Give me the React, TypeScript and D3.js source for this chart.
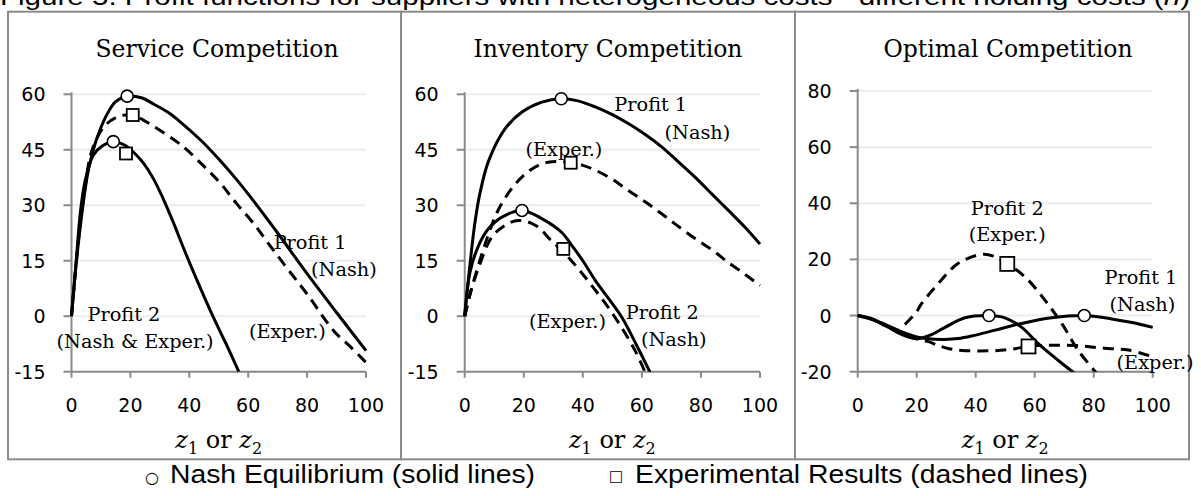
import React from 'react';
import * as d3 from 'd3';

// ---------- shared ticks ----------
const xTicks = [0, 20, 40, 60, 80, 100];
const yTicksSI = [-15, 0, 15, 30, 45, 60];
const yTicksOpt = [-20, 0, 20, 40, 60, 80];

// ---------- Service Competition ----------
const svcP1NashX = [0, 1.7, 3.9, 5.5, 7.4, 9.5, 12, 15, 18.9, 24, 28, 33, 37, 44, 50, 56, 62, 70, 80, 90, 100];
const svcP1NashY = [0, 15, 30, 38.5, 45, 50, 54.5, 58, 59.5, 59, 57.3, 55, 52.5, 47.5, 42.5, 37, 31, 22.5, 11.5, 1, -9.3];
const svcP1ExpX = [0, 1.5, 3, 4.8, 6.8, 10.8, 15.3, 20.8, 25.5, 30, 35.7, 39.3, 45, 50.6, 56, 61.9, 67, 73.2, 80, 89, 95, 100];
const svcP1ExpY = [0, 13.5, 25.5, 36, 44.5, 51, 53.8, 54.4, 52.5, 50.3, 47.2, 44.9, 40.5, 35.9, 30.5, 25, 19.5, 13, 6, -3.9, -8.5, -12.5];
const svcP2X = [0, 1.6, 3, 4.6, 7.4, 10.8, 14.2, 18, 21, 24.5, 27.8, 31, 34.5, 38, 43, 48, 52.5, 56.8];
const svcP2Y = [0, 15, 28, 36.5, 43.5, 46.2, 47.2, 46.3, 44.4, 41.3, 37.2, 32, 25.5, 18.5, 9, 0, -7.5, -15];
const svcNashPts = [[18.9, 59.5], [14.2, 47.2]];
const svcExpPts = [[20.8, 54.4], [18.5, 44.0]];

// ---------- Inventory Competition ----------
const invP1NashX = [0, 1, 2.2, 3.5, 5.1, 8.1, 13.7, 19.4, 26.1, 32.7, 38, 44.2, 50, 55.4, 61, 66.7, 72, 78, 84, 89.3, 95, 100];
const invP1NashY = [0, 8, 17, 25.5, 33, 42, 50.7, 55.2, 57.9, 58.8, 58.3, 56.6, 54.5, 52.1, 49.2, 45.8, 42, 37.6, 32.8, 28.6, 24, 19.5];
const invP1ExpX = [0, 2, 5.1, 8.2, 11.4, 16.1, 21, 26.1, 30.6, 35.9, 40, 44.2, 50, 55.4, 61, 66.7, 72, 78, 84, 89.3, 95, 100];
const invP1ExpY = [0, 6.5, 15, 22.5, 28.8, 34.7, 38.8, 41.2, 41.8, 41.5, 40.8, 39.5, 37, 34, 31, 27.7, 24.5, 21, 17.8, 14.5, 11.3, 8.3];
const invP2NashX = [0, 1.8, 4.7, 8.1, 12.6, 19.4, 26.1, 32.8, 36.2, 40, 44.2, 48.5, 53.2, 58, 62.8];
const invP2NashY = [0, 11.9, 19.1, 23.7, 26.8, 28.6, 26.4, 22.7, 19.2, 15, 9.7, 5, -0.3, -7.5, -15.2];
const invP2ExpX = [0, 2, 5.1, 9.1, 13.7, 18.2, 23.9, 29.5, 33.4, 38.5, 43.5, 48.6, 53, 57.7, 61];
const invP2ExpY = [0, 6.5, 14, 21.3, 24.6, 25.9, 24.6, 20.3, 17.4, 12.8, 7.8, 2.4, -2.9, -9.3, -15];
const invNashPts = [[32.7, 58.8], [19.4, 28.6]];
const invExpPts = [[35.9, 41.5], [33.4, 18.2]];

// ---------- Optimal Competition ----------
const optP1NashX = [0, 5, 10, 15, 20, 24, 29.6, 34, 38.6, 46.6, 55.6, 65.8, 76.8, 86.1, 93, 100];
const optP1NashY = [0, -1.5, -3.5, -5.8, -7.6, -8.3, -8.5, -8.2, -7.3, -5.2, -2.8, -0.8, 0, -1.2, -2.5, -4.2];
const optP2NashX = [0, 5, 10, 15, 20, 25, 29.6, 36.4, 44.5, 49.9, 55.6, 61.3, 68, 73.7];
const optP2NashY = [0, -1.2, -4, -6.8, -8.3, -6.8, -4.2, -0.8, 0, -0.8, -4.2, -10.1, -16, -20.7];
const optP1ExpX = [0, 5, 10, 15, 20, 24, 27.4, 31, 36.4, 46.6, 52, 57.9, 63, 68, 74.8, 80, 86, 91.8, 100];
const optP1ExpY = [0, -1.3, -4, -6.5, -8.3, -9.3, -10.7, -11.8, -12.5, -12.5, -12, -11, -10.6, -10.6, -10.7, -11.3, -11.8, -12.3, -14.7];
const optP2ExpX = [16, 19.7, 21.7, 27.4, 34.1, 42, 46, 50.7, 56.7, 63.6, 69.2, 74.8, 81];
const optP2ExpY = [-3.2, 1, 4.3, 11.5, 18.6, 21.8, 21.2, 18.4, 13.8, 5.3, -2.9, -12.5, -20.6];
const optNashPts = [[44.5, 0], [76.8, 0]];
const optExpPts = [[50.7, 18.4], [57.9, -11]];

// ---------- text ----------
const figTitle = 'Figure 5. Profit functions for suppliers with heterogeneous costs - different holding costs (';
const panelTitles = ['Service Competition', 'Inventory Competition', 'Optimal Competition'];
const legendNash = 'Nash Equilibrium (solid lines)';
const legendExp = 'Experimental Results (dashed lines)';

type Series = { xs: number[]; ys: number[]; dashed: boolean };
type Note = { text: string; u: number; v: number };

const zip = (xs: number[], ys: number[]) => xs.map((x, i) => [x, ys[i]] as [number, number]);

const panels = [
  {
    title: panelTitles[0], titleX: 217, border: [8, 401],
    x0: 71.5, x1: 366, yDomain: [-15, 60], yTop: 94.3, yBottom: 371.7, yTicks: yTicksSI,
    series: [
      { xs: svcP1NashX, ys: svcP1NashY, dashed: false },
      { xs: svcP1ExpX, ys: svcP1ExpY, dashed: true },
      { xs: svcP2X, ys: svcP2Y, dashed: false },
    ] as Series[],
    nash: svcNashPts, exp: svcExpPts, sq: 12,
    notes: [
      { text: 'Profit 1', u: 81, v: 18.3 },
      { text: '(Nash)', u: 92.5, v: 11.0 },
      { text: 'Profit 2', u: 17.8, v: -1.4 },
      { text: '(Nash & Exper.)', u: 21.6, v: -8.5 },
      { text: '(Exper.)', u: 73.3, v: -6.0 },
    ] as Note[],
  },
  {
    title: panelTitles[1], titleX: 608, border: [401, 795],
    x0: 464.7, x1: 760, yDomain: [-15, 60], yTop: 94.3, yBottom: 371.7, yTicks: yTicksSI,
    series: [
      { xs: invP1NashX, ys: invP1NashY, dashed: false },
      { xs: invP1ExpX, ys: invP1ExpY, dashed: true },
      { xs: invP2NashX, ys: invP2NashY, dashed: false },
      { xs: invP2ExpX, ys: invP2ExpY, dashed: true },
    ] as Series[],
    nash: invNashPts, exp: invExpPts, sq: 12,
    notes: [
      { text: 'Profit 1', u: 63, v: 55.4 },
      { text: '(Nash)', u: 78.8, v: 48.0 },
      { text: '(Exper.)', u: 33.6, v: 43.2 },
      { text: '(Exper.)', u: 34.8, v: -3.1 },
      { text: 'Profit 2', u: 66.9, v: -0.7 },
      { text: '(Nash)', u: 70.8, v: -8.1 },
    ] as Note[],
  },
  {
    title: panelTitles[2], titleX: 1008, border: [795, 1189],
    x0: 857.7, x1: 1152.7, yDomain: [-20, 80], yTop: 91, yBottom: 371.7, yTicks: yTicksOpt,
    series: [
      { xs: optP1NashX, ys: optP1NashY, dashed: false },
      { xs: optP2NashX, ys: optP2NashY, dashed: false },
      { xs: optP1ExpX, ys: optP1ExpY, dashed: true },
      { xs: optP2ExpX, ys: optP2ExpY, dashed: true },
    ] as Series[],
    nash: optNashPts, exp: optExpPts, sq: 14,
    notes: [
      { text: 'Profit 2', u: 50.7, v: 35.9 },
      { text: '(Exper.)', u: 50.7, v: 26.4 },
      { text: 'Profit 1', u: 96, v: 11.3 },
      { text: '(Nash)', u: 96.5, v: 1.8 },
      { text: '(Exper.)', u: 100.8, v: -19 },
    ] as Note[],
  },
];

const SANS = 'DejaVu Sans, sans-serif';
const SERIF = 'DejaVu Serif, serif';
const ARIAL = 'Liberation Sans, Arial, sans-serif';
const AXIS = '#8a8a8a';
const GRID = '#ececec';

function Panel({ p, idx }: { p: (typeof panels)[number]; idx: number }) {
  const x = d3.scaleLinear().domain([0, 100]).range([p.x0, p.x1]);
  const y = d3.scaleLinear().domain(p.yDomain).range([p.yBottom, p.yTop]);
  const line = d3
    .line<[number, number]>()
    .x((d) => x(d[0]))
    .y((d) => y(d[1]))
    .curve(d3.curveCatmullRom.alpha(0.5));
  const clipId = `clip-${idx}`;
  const cx = (p.x0 + p.x1) / 2;
  return (
    <g>
      <rect x={p.border[0]} y={11.7} width={p.border[1] - p.border[0]} height={459.3 - 11.7} fill="none" stroke="#8b8b8b" strokeWidth={2} />
      <text x={p.titleX} y={57} textAnchor="middle" fontFamily={SERIF} fontSize={23.5} fill="#000">{p.title}</text>
      {p.yTicks.map((t) => (
        <line key={'g' + t} x1={p.x0} x2={p.x1} y1={y(t)} y2={y(t)} stroke={GRID} strokeWidth={2} />
      ))}
      <line x1={p.x0} x2={p.x0} y1={p.yTop - 2} y2={p.yBottom} stroke={AXIS} strokeWidth={2} />
      <line x1={p.x0} x2={p.x1} y1={p.yBottom} y2={p.yBottom} stroke={AXIS} strokeWidth={2} />
      {p.yTicks.map((t) => (
        <g key={'yt' + t}>
          <line x1={p.x0 - 8} x2={p.x0} y1={y(t)} y2={y(t)} stroke={AXIS} strokeWidth={2} />
          <text x={p.x0 - 26} y={y(t) + 7} textAnchor="end" fontFamily={SANS} fontSize={19} fill="#000">{t}</text>
        </g>
      ))}
      {xTicks.map((t) => (
        <g key={'xt' + t}>
          <line x1={x(t)} x2={x(t)} y1={p.yBottom} y2={p.yBottom + 6} stroke={AXIS} strokeWidth={2} />
          <text x={x(t)} y={412} textAnchor="middle" fontFamily={SANS} fontSize={19} fill="#000">{t}</text>
        </g>
      ))}
      <text x={cx} y={448} textAnchor="middle" fontFamily={SERIF} fontSize={24} fill="#000">
        <tspan fontStyle="italic">z</tspan>
        <tspan fontSize={16} dy={6}>1</tspan>
        <tspan dy={-6}> or </tspan>
        <tspan fontStyle="italic">z</tspan>
        <tspan fontSize={16} dy={6}>2</tspan>
      </text>
      <defs>
        <clipPath id={clipId}>
          <rect x={p.x0 - 2} y={p.yTop - 30} width={p.x1 - p.x0 + 6} height={p.yBottom - p.yTop + 30} />
        </clipPath>
      </defs>
      <g clipPath={`url(#${clipId})`}>
        {p.series.map((s, i) => (
          <path
            key={'s' + i}
            d={line(zip(s.xs, s.ys)) || ''}
            fill="none"
            stroke="#000"
            strokeWidth={3}
            strokeDasharray={s.dashed ? '11 7' : undefined}
          />
        ))}
      </g>
      {p.nash.map((d, i) => (
        <circle key={'n' + i} cx={x(d[0])} cy={y(d[1])} r={6} fill="#fff" stroke="#000" strokeWidth={1.6} />
      ))}
      {p.exp.map((d, i) => (
        <rect key={'e' + i} x={x(d[0]) - p.sq / 2} y={y(d[1]) - p.sq / 2} width={p.sq} height={p.sq} fill="#fff" stroke="#000" strokeWidth={1.8} />
      ))}
      {p.notes.map((n, i) => (
        <text key={'t' + i} x={x(n.u)} y={y(n.v)} textAnchor="middle" fontFamily={SERIF} fontSize={19.3} fill="#000">{n.text}</text>
      ))}
    </g>
  );
}

export default function App() {
  return (
    <svg
      width={1201}
      height={496}
      viewBox="0 0 1201 496"
      style={{ position: 'absolute', left: 0, top: 0, background: '#fff' }}
    >
      <rect x={0} y={0} width={1201} height={496} fill="#fff" />
      <text x={0} y={4.5} fontFamily={ARIAL} fontSize={24} fill="#000" textLength={1190} lengthAdjust="spacingAndGlyphs">
        {figTitle}
        <tspan fontStyle="italic">h</tspan>)
      </text>
      {panels.map((p, i) => (
        <Panel key={i} p={p} idx={i} />
      ))}
      <text x={152} y={477} textAnchor="middle" dominantBaseline="central" fontFamily={SANS} fontSize={16} fill="#000">○</text>
      <text x={170} y={483} fontFamily={ARIAL} fontSize={25} fill="#000" textLength={365} lengthAdjust="spacingAndGlyphs">{legendNash}</text>
      <text x={616} y={476} textAnchor="middle" dominantBaseline="central" fontFamily={SANS} fontSize={15} fill="#000">□</text>
      <text x={635} y={483} fontFamily={ARIAL} fontSize={25} fill="#000" textLength={453} lengthAdjust="spacingAndGlyphs">{legendExp}</text>
    </svg>
  );
}
